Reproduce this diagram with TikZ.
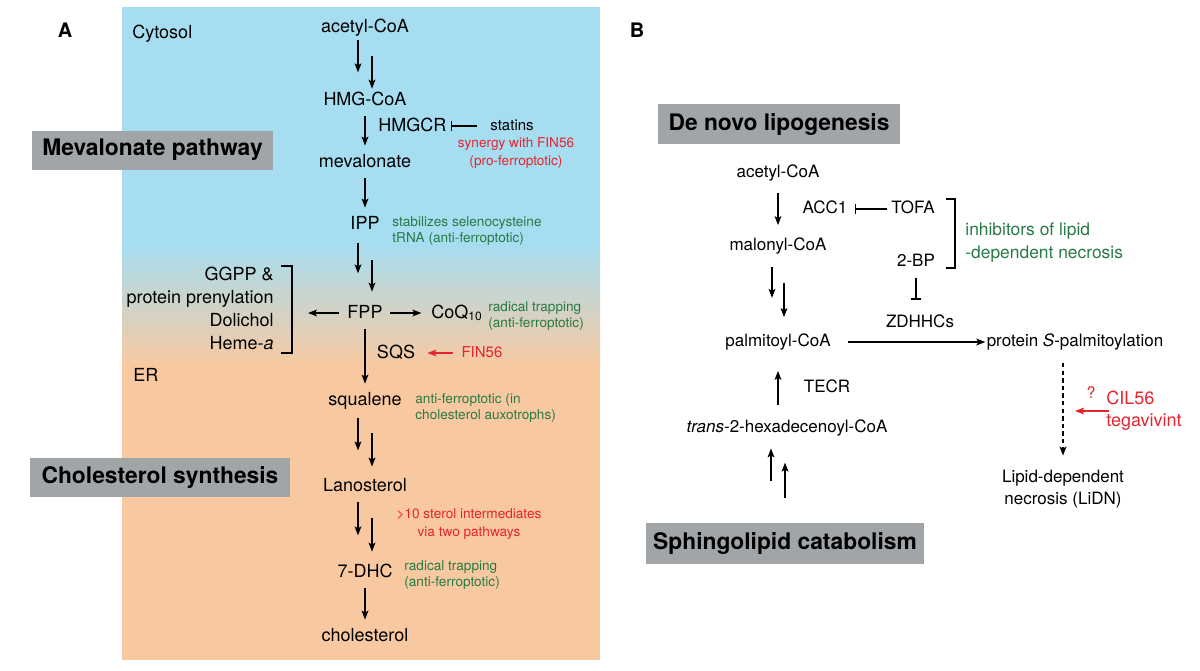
\documentclass[tikz,border=0pt]{standalone}
\usepackage{fontspec}
\setmainfont{TeX Gyre Heros}
\usepackage{tikz}
\usetikzlibrary{positioning,arrows.meta,calc}
\definecolor{cytoBlue}{RGB}{167,221,240}
\definecolor{erPeach}{RGB}{248,201,161}
\definecolor{noteGreen}{RGB}{40,122,68}
\definecolor{noteRed}{RGB}{230,36,46}
\definecolor{boxGray}{RGB}{162,165,168}

\begin{document}
\begin{tikzpicture}[x=0.5pt, y=-0.5pt,
    metab/.style={inner sep=1pt, font=\fontsize{9}{10.8}\selectfont, text height=7pt, text depth=2pt},
    metabB/.style={inner sep=1pt, font=\fontsize{8.5}{10.2}\selectfont, text height=6.5pt, text depth=2pt},
    sideList/.style={inner sep=1pt, font=\fontsize{9}{11.5}\selectfont, align=right},
    pathBox/.style={fill=boxGray, font=\bfseries\fontsize{11.4}{13}\selectfont, inner sep=0pt, minimum height=19.5pt},
    greenNote/.style={text=noteGreen, font=\fontsize{6.8}{8.2}\selectfont, align=left, inner sep=0pt},
    redNote/.style={text=noteRed, font=\fontsize{6.8}{8.6}\selectfont, align=center, inner sep=0pt},
    smallLbl/.style={inner sep=1pt, font=\fontsize{7.5}{9}\selectfont, text height=5.5pt, text depth=1.5pt},
    panelLbl/.style={font=\bfseries\fontsize{10}{12}\selectfont},
    arr/.style={-{Stealth[length=4.5pt,width=3.4pt,inset=1pt]}, line width=0.65pt},
    arrRev/.style={{Stealth[length=4.5pt,width=3.4pt,inset=1pt]}-, line width=0.65pt},
    rxn/.style={arr, shorten <=2.5pt, shorten >=2.5pt},
    inhib/.style={-{Bar[width=5pt]}, line width=0.65pt},
    redArr/.style={arr, draw=noteRed},
    bracketLine/.style={line width=0.65pt}
]
    \useasboundingbox (0,0) rectangle (1200,670);

    % compartments of panel A
    \fill[cytoBlue] (122,7) rectangle (600,246);
    \shade[top color=cytoBlue, bottom color=erPeach] (122,245) rectangle (600,366);
    \fill[erPeach] (122,365) rectangle (600,660);

    % ---------- panel A ----------
    \node[panelLbl] (lblA) at (65,30) {A};
    \node[metab, anchor=west] (cyto) at (130,33) {Cytosol};
    \node[metab, anchor=west] (er) at (131,376) {ER};
    \node[pathBox, minimum width=120.5pt] (mevBox) at (152.5,150) {Mevalonate pathway};
    \node[pathBox, minimum width=130pt] (cholBox) at (160,477.5) {Cholesterol synthesis};

    \node[metab] (acCoA) at (365,27) {acetyl-CoA};
    \node[metab] (hmgCoA) at (365,100) {HMG-CoA};
    \node[metab, anchor=west] (hmgcr) at (376,126) {HMGCR};
    \node[smallLbl, anchor=west] (statins) at (488,126) {statins};
    \node[redNote] (synergy) at (516,153) {synergy with FIN56\\(pro-ferroptotic)};
    \node[metab] (meva) at (365,162) {mevalonate};
    \node[metab] (ipp) at (365,224) {IPP};
    \node[greenNote, anchor=west] (selNote) at (392,231) {stabilizes selenocysteine\\tRNA (anti-ferroptotic)};
    \node[metab] (fpp) at (365,313) {FPP};
    \node[metab] (coq) at (457,313) {CoQ\textsubscript{10}};
    \node[greenNote, anchor=west] (coqNote) at (488,316) {radical trapping\\(anti-ferroptotic)};
    \node[sideList, anchor=east] (prenyl) at (276,308) {GGPP \&\\protein prenylation\\Dolichol\\Heme-\textit{a}};
    \node[metab] (sqs) at (396,353) {SQS};
    \node[smallLbl, text=noteRed] (fin) at (482,353) {FIN56};
    \node[metab] (squal) at (365,400) {squalene};
    \node[greenNote, anchor=west] (auxNote) at (415,408) {anti-ferroptotic (in\\cholesterol auxotrophs)};
    \node[metab] (lano) at (365,486) {Lanosterol};
    \node[redNote] (sterolNote) at (469,524) {>10 sterol intermediates\\via two pathways};
    \node[metab] (dhc) at (365,572) {7-DHC};
    \node[greenNote, anchor=west] (dhcNote) at (404,575) {radical trapping\\(anti-ferroptotic)};
    \node[metab] (chol) at (365,636) {cholesterol};

    \draw[arr] ([xshift=-3.5pt,yshift=-1pt]acCoA.south) -- ++(0,32);
    \draw[arrRev] ([xshift=3.5pt]hmgCoA.north) -- ++(0,-33);
    \draw[rxn] (hmgCoA) -- (meva);
    \draw[inhib, shorten <=5.5pt, shorten >=1pt] (statins) -- (hmgcr);
    \draw[rxn] (meva) -- (ipp);
    \draw[arr] ([xshift=-3.5pt,yshift=-4pt]ipp.south) -- ++(0,30);
    \draw[arrRev] ([xshift=3.5pt,yshift=5pt]fpp.north) -- ++(0,-32);
    \coordinate (brMid) at (292,313);
    \draw[rxn, shorten <=3.25pt, shorten >=8pt] (fpp) -- (brMid);
    \draw[bracketLine] (281,266) -| (292,353) -- (281,353);
    \draw[rxn, shorten >=3.75pt] (fpp) -- (coq);
    \draw[rxn] (fpp) -- (squal);
    \draw[redArr, shorten <=3.25pt, shorten >=5pt] (fin) -- (sqs);
    \draw[arr] ([xshift=-3.5pt,yshift=-3.5pt]squal.south) -- ++(0,32);
    \draw[arrRev] ([xshift=3.5pt,yshift=4pt]lano.north) -- ++(0,-34);
    \draw[arr] ([xshift=-3.5pt,yshift=-2.5pt]lano.south) -- ++(0,33);
    \draw[arrRev] ([xshift=3.5pt,yshift=4.5pt]dhc.north) -- ++(0,-34);
    \draw[rxn] (dhc) -- (chol);

    % ---------- panel B ----------
    \node[panelLbl] (lblB) at (637,30) {B};
    \node[pathBox, minimum width=121pt, minimum height=20pt] (dnlBox) at (779,124) {De novo lipogenesis};
    \node[pathBox, minimum width=139pt, minimum height=20.5pt] (sphBox) at (785,543.5) {Sphingolipid catabolism};

    \node[metabB] (bAc) at (778,173) {acetyl-CoA};
    \node[metabB] (acc1) at (825,209) {ACC1};
    \node[metabB] (tofa) at (913,209) {TOFA};
    \node[metabB] (malo) at (778,246) {malonyl-CoA};
    \node[metabB] (twoBP) at (916,262) {2-BP};
    \node[metabB] (zdhhc) at (920,323) {ZDHHCs};
    \node[metabB] (palm) at (778,342) {palmitoyl-CoA};
    \node[metabB] (protS) at (1075,342) {protein \textit{S}-palmitoylation};
    \node[metabB] (tecr) at (827,388) {TECR};
    \node[metabB] (trans) at (787,428) {\textit{trans}-2-hexadecenoyl-CoA};
    \node[text=noteGreen, font=\fontsize{8.7}{11.5}\selectfont, align=left, inner sep=0pt, anchor=west] (inhNote) at (965,242.5) {inhibitors of lipid\\-dependent necrosis};
    \node[font=\fontsize{8.5}{11}\selectfont, align=center, inner sep=1pt] (lidn) at (1063,489) {Lipid-dependent\\necrosis (LiDN)};
    \node[text=noteRed, font=\fontsize{9}{11}\selectfont, align=left, inner sep=0pt, anchor=west] (cil) at (1106,411) {CIL56\\tegavivint};
    \node[text=noteRed, font=\fontsize{8}{9}\selectfont, inner sep=0pt] (qMark) at (1091,393) {?};

    \draw[rxn, shorten <=4.5pt, shorten >=5pt] (bAc) -- (malo);
    \draw[inhib, shorten <=1pt, shorten >=2.5pt] (tofa) -- (acc1);
    \draw[bracketLine] (946,199) -| (955,268) -- (946,268);
    \draw[arr] ([xshift=-3pt,yshift=-5pt]malo.south) -- ++(0,31);
    \draw[arrRev] ([xshift=3pt,yshift=7pt]palm.north) -- ++(0,-34);
    \draw[inhib, shorten <=2.5pt, shorten >=6.25pt] (twoBP) -- (twoBP |- zdhhc.north);
    \draw[arr, shorten <=7.5pt, shorten >=-0.5pt] (palm) -- (protS);
    \draw[arr, line width=0.9pt, dash pattern=on 2.2pt off 1.6pt, shorten <=5pt, shorten >=6pt] (protS.south -| lidn.north) -- (lidn.north);
    \coordinate (dotMid) at (1064,411);
    \draw[redArr, shorten <=-1.5pt, shorten >=5.5pt] (cil) -- (dotMid);
    \draw[rxn, shorten <=6pt, shorten >=9pt] (trans.north -| palm) -- (palm.south);
    \draw[arrRev] ($(trans.south -| palm)+(-7,9.5)$) -- ++(0,33);
    \draw[arr] ($(sphBox.north -| palm)+(7,-25)$) -- ++(0,-35);
\end{tikzpicture}
\end{document}
